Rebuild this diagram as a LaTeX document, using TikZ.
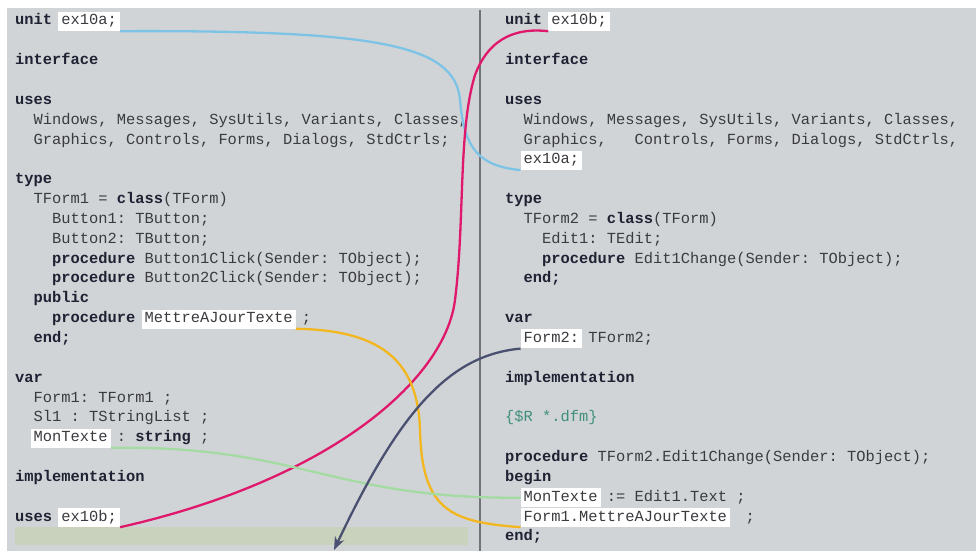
\documentclass[tikz,border=0pt]{standalone}
\usepackage{fontspec}
\usepackage{xcolor}
\usepackage{tikz}
\usetikzlibrary{arrows.meta}
\newfontfamily\codefont{Liberation Mono}
\definecolor{paper}{HTML}{D1D4D7}
\definecolor{rule}{HTML}{707378}
\definecolor{ink}{HTML}{3A3B3F}
\definecolor{kwink}{HTML}{1E2232}
\definecolor{comment}{HTML}{3F8F7C}
\definecolor{band}{HTML}{C9D2BC}
\definecolor{linkblue}{HTML}{7CC3E6}
\definecolor{linkred}{HTML}{E0186C}
\definecolor{linkgold}{HTML}{F2B61E}
\definecolor{linkgreen}{HTML}{A4DBA2}
\definecolor{linkslate}{HTML}{4A5070}
\newcommand{\kw}[1]{{\bfseries\color{kwink}#1}}

\begin{document}
\begin{tikzpicture}[x=1pt,y=-1pt,>=Stealth,
  every node/.style={font=\codefont\fontsize{15.4pt}{19.84pt}\selectfont\frenchspacing,anchor=base west,inner sep=0pt,text=ink},
  hl/.style={fill=white,inner xsep=3pt,inner ysep=3pt,text height=10pt,text depth=3pt},
  link/.style={line width=2.3pt}]
  \useasboundingbox (0,0) rectangle (976,551);
  \fill[white] (0,0) rectangle (976,551);
  \fill[paper] (7,8) rectangle (976,551);
  \fill[band] (15,527) rectangle (468,545);
  \draw[rule,line width=1.8pt] (480,10)--(480,551);
  % unit ex10a
  \node (l0) at (15,25) {\kw{unit}};
  \node[hl] (lexa) at (58.25,25) {ex10a;};
  \node (l2) at (15,64.7) {\kw{interface}};
  \node (l4) at (15,104.4) {\kw{uses}};
  \node (l5) at (33.5,124.2) {Windows, Messages, SysUtils, Variants, Classes,};
  \node (l6) at (33.5,144) {Graphics, Controls, Forms, Dialogs, StdCtrls;};
  \node (l8) at (15,183.7) {\kw{type}};
  \node (l9) at (33.5,203.6) {TForm1 = \kw{class}(TForm)};
  \node (l10) at (52,223.4) {Button1: TButton;};
  \node (l11) at (52,243.2) {Button2: TButton;};
  \node (l12) at (52,263.1) {\kw{procedure} Button1Click(Sender: TObject);};
  \node (l13) at (52,282.9) {\kw{procedure} Button2Click(Sender: TObject);};
  \node (l14) at (33.5,302.8) {\kw{public}};
  \node (l15) at (52,322.6) {\kw{procedure}};
  \node[hl] (lmaj) at (141.5,322.6) {MettreAJourTexte};
  \node (l15b) at (301.75,322.6) {;};
  \node (l16) at (33.5,342.4) {\kw{end;}};
  \node (l18) at (15,382.1) {\kw{var}};
  \node (l19) at (33.5,402) {Form1: TForm1 ;};
  \node (l20) at (33.5,421.8) {Sl1 : TStringList ;};
  \node[hl] (lmon) at (30.5,441.6) {MonTexte};
  \node (l21) at (116.75,441.6) {: \kw{string} ;};
  \node (l23) at (15,481.3) {\kw{implementation}};
  \node (l25) at (15,521) {\kw{uses}};
  \node[hl] (lexb) at (58.25,521) {ex10b;};
  % unit ex10b
  \node (r0) at (505,25) {\kw{unit}};
  \node[hl] (rexb) at (548.25,25) {ex10b;};
  \node (r2) at (505,64.7) {\kw{interface}};
  \node (r4) at (505,104.4) {\kw{uses}};
  \node (r5) at (523.5,124.2) {Windows, Messages, SysUtils, Variants, Classes,};
  \node (r6) at (523.5,144) {Graphics,\ \ \ Controls, Forms, Dialogs, StdCtrls,};
  \node[hl] (rexa) at (520.5,163.9) {ex10a;};
  \node (r9) at (505,203.6) {\kw{type}};
  \node (r10) at (523.5,223.4) {TForm2 = \kw{class}(TForm)};
  \node (r11) at (542,243.2) {Edit1: TEdit;};
  \node (r12) at (542,263.1) {\kw{procedure} Edit1Change(Sender: TObject);};
  \node (r13) at (523.5,282.9) {\kw{end;}};
  \node (r15) at (505,322.6) {\kw{var}};
  \node[hl] (rf2) at (520.5,342.4) {Form2:};
  \node (r16) at (588.25,342.4) {TForm2;};
  \node (r18) at (505,382.1) {\kw{implementation}};
  \node[text=comment] (r20) at (505,421.8) {\{\$R *.dfm\}};
  \node (r22) at (505,461.5) {\kw{procedure} TForm2.Edit1Change(Sender: TObject);};
  \node (r23) at (505,481.3) {\kw{begin}};
  \node[hl] (rmon) at (520.5,501.2) {MonTexte};
  \node (r24) at (606.75,501.2) {:= Edit1.Text ;};
  \node[hl] (rmaj) at (520.5,521) {Form1.MettreAJourTexte};
  \node (r25) at (745.5,521) {;};
  \node (r26) at (505,540.8) {\kw{end;}};
  % links
  \coordinate (tip) at (334,550);
  \draw[link,linkblue] (lexa.south east) .. controls (380,30) and (455,45) .. (460,100)
    .. controls (464,150) and (480,166) .. (rexa.south west);
  \draw[link,linkred] (lexb.south east) .. controls (330,480) and (445,380) .. (455,300)
    .. controls (465,220) and (458,130) .. (475,75) .. controls (490,35) and (520,28) .. (rexb.south west);
  \draw[link,linkgold] (lmaj.south east) .. controls (380,330) and (418,360) .. (420,430)
    .. controls (422,510) and (450,522) .. (rmaj.south west);
  \draw[link,linkgreen] (lmon.south east) .. controls (300,445) and (330,499) .. (rmon.west);
  \draw[link,linkslate,-{Stealth[length=13pt,width=10pt]}] (rf2.south west) .. controls (450,355) and (400,410) .. (tip);
\end{tikzpicture}
\end{document}
